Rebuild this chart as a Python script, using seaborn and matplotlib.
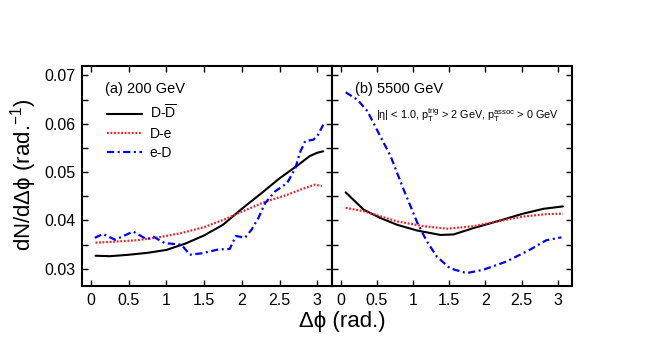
import matplotlib
matplotlib.use("Agg")
import matplotlib.pyplot as plt
import seaborn as sns
from matplotlib.ticker import MultipleLocator, FixedLocator

sns.set_style("ticks")
plt.rcParams['font.family'] = ['Liberation Sans', 'DejaVu Sans']
plt.rcParams['mathtext.fontset'] = 'custom'
plt.rcParams['mathtext.rm'] = 'Liberation Sans'
plt.rcParams['mathtext.it'] = 'Liberation Sans:italic'
plt.rcParams['mathtext.bf'] = 'Liberation Sans:bold'
plt.rcParams['text.color'] = 'black'
plt.rcParams['axes.labelcolor'] = 'black'
plt.rcParams['xtick.color'] = 'black'
plt.rcParams['ytick.color'] = 'black'

# ---- data: panel (a) 200 GeV ----
a_dd_x = [0.06, 0.25, 0.5, 0.75, 1.0, 1.25, 1.5, 1.75, 2.0, 2.25, 2.5, 2.75, 2.9, 3.0, 3.08]
a_dd_y = [0.0327, 0.0326, 0.0329, 0.0333, 0.0339, 0.0352, 0.0369, 0.0391, 0.0424, 0.0455,
          0.0487, 0.0515, 0.0533, 0.0540, 0.0543]
a_de_x = [0.06, 0.3, 0.6, 0.9, 1.2, 1.5, 1.8, 2.0, 2.3, 2.6, 2.8, 2.97, 3.06]
a_de_y = [0.0354, 0.0356, 0.0359, 0.0365, 0.0374, 0.0386, 0.0404, 0.0418, 0.0438, 0.0453,
          0.0465, 0.0474, 0.0471]
a_ed_x = [0.05, 0.16, 0.32, 0.56, 0.74, 0.83, 0.98, 1.2, 1.31, 1.47, 1.69, 1.84, 1.92, 2.04,
          2.13, 2.22, 2.31, 2.44, 2.6, 2.71, 2.77, 2.84, 2.95, 3.01, 3.08]
a_ed_y = [0.0364, 0.0372, 0.0360, 0.0377, 0.0361, 0.0366, 0.0353, 0.0350, 0.0329, 0.0332,
          0.0340, 0.0341, 0.0368, 0.0364, 0.0381, 0.0405, 0.0436, 0.0460, 0.0477, 0.0508,
          0.0540, 0.0564, 0.0567, 0.0577, 0.0598]

# ---- data: panel (b) 5500 GeV ----
b_dd_x = [0.07, 0.32, 0.55, 0.78, 1.06, 1.38, 1.56, 1.83, 2.16, 2.52, 2.8, 3.07]
b_dd_y = [0.0458, 0.0422, 0.0405, 0.0391, 0.0379, 0.0370, 0.0371, 0.0384, 0.0398, 0.0414,
          0.0424, 0.0429]
b_de_x = [0.07, 0.32, 0.78, 1.15, 1.47, 1.83, 2.16, 2.52, 2.84, 3.07]
b_de_y = [0.0426, 0.0419, 0.0398, 0.0388, 0.0383, 0.0388, 0.0398, 0.0408, 0.0413, 0.0414]
b_ed_x = [0.07, 0.23, 0.37, 0.5, 0.69, 0.87, 1.06, 1.19, 1.33, 1.51, 1.74, 1.97, 2.29,
          2.61, 2.84, 3.05]
b_ed_y = [0.0665, 0.0650, 0.0626, 0.0588, 0.0533, 0.0464, 0.0395, 0.0357, 0.0325, 0.0301,
          0.0291, 0.0298, 0.0315, 0.0339, 0.0359, 0.0365]

series_labels = ["D-$\\overline{\\mathrm{D}}$", "D-e", "e-D"]
x_ticks = [0, 0.5, 1, 1.5, 2, 2.5, 3]
x_ticklabels = ["0", "0.5", "1", "1.5", "2", "2.5", "3"]
y_ticks = [0.03, 0.04, 0.05, 0.06, 0.07]
y_ticklabels = ["0.03", "0.04", "0.05", "0.06", "0.07"]

styles = [dict(color="black", linestyle="-", lw=1.5),
          dict(color="#ff1a1a", linestyle=(0, (0.8, 0.8)), lw=1.6),
          dict(color="#0000ff", linestyle=(0, (3.2, 1.6, 0.9, 1.6)), lw=1.6)]

W, H = 664, 350
fig = plt.figure(figsize=(W / 100, H / 100), dpi=100)
bottom, height = 64.3 / H, 219.5 / H
ax1 = fig.add_axes([82.3 / W, bottom, 250.0 / W, height])
ax2 = fig.add_axes([332.3 / W, bottom, 240.0 / W, height])

panels = [(ax1, [(a_dd_x, a_dd_y), (a_de_x, a_de_y), (a_ed_x, a_ed_y)]),
          (ax2, [(b_dd_x, b_dd_y), (b_de_x, b_de_y), (b_ed_x, b_ed_y)])]

for ax, data in panels:
    for (xs, ys), lab, st in zip(data, series_labels, styles):
        sns.lineplot(x=xs, y=ys, ax=ax, label=lab, sort=False, **st)
    ax.set_xlim(-0.115, 3.2)
    ax.set_ylim(0.0265, 0.0719)
    ax.xaxis.set_major_locator(FixedLocator(x_ticks))
    ax.set_xticklabels(x_ticklabels)
    ax.yaxis.set_major_locator(FixedLocator(y_ticks))
    ax.yaxis.set_minor_locator(MultipleLocator(0.005))
    ax.tick_params(which="both", direction="in", top=True, right=True, length=4,
                   width=1, labelsize=11.5, pad=5, color="black", labelcolor="black")
    for sp in ax.spines.values():
        sp.set_linewidth(1.5)
        sp.set_color("black")
    ax.set_xlabel("")
    ax.set_ylabel("")
    ax.set_facecolor("none")

ax1.set_yticklabels(y_ticklabels)
ax2.tick_params(axis="y", which="both", labelleft=False)
ax2.get_legend().remove()

leg = ax1.legend(loc="upper left", bbox_to_anchor=(0.098, 0.83), frameon=False,
                 fontsize=10, handlelength=2.5, handletextpad=0.6, labelspacing=0.35,
                 borderaxespad=0, borderpad=0)
for t in leg.get_texts():
    t.set_color("black")

ax1.text(0.09, 0.894, "(a) 200 GeV", transform=ax1.transAxes, fontsize=10.5,
         ha="left", va="center", color="black")
ax2.text(0.094, 0.894, "(b) 5500 GeV", transform=ax2.transAxes, fontsize=10.5,
         ha="left", va="center", color="black")
ax2.text(0.182, 0.779,
         "|η| < 1.0, p$_{\\mathrm{T}}^{\\mathrm{trig}}$ > 2 GeV, p$_{\\mathrm{T}}^{\\mathrm{assoc}}$ > 0 GeV",
         transform=ax2.transAxes, fontsize=7.8, ha="left", va="center", color="black")

fig.text(342.5 / W, 1 - 321 / H, "Δϕ (rad.)", fontsize=16, ha="center", va="center",
         color="black")
fig.text(24 / W, 0.501, "dN/dΔϕ (rad.$^{-1}$)", fontsize=16, ha="center", va="center",
         rotation=90, color="black")

fig.savefig("out.png", dpi=100)
